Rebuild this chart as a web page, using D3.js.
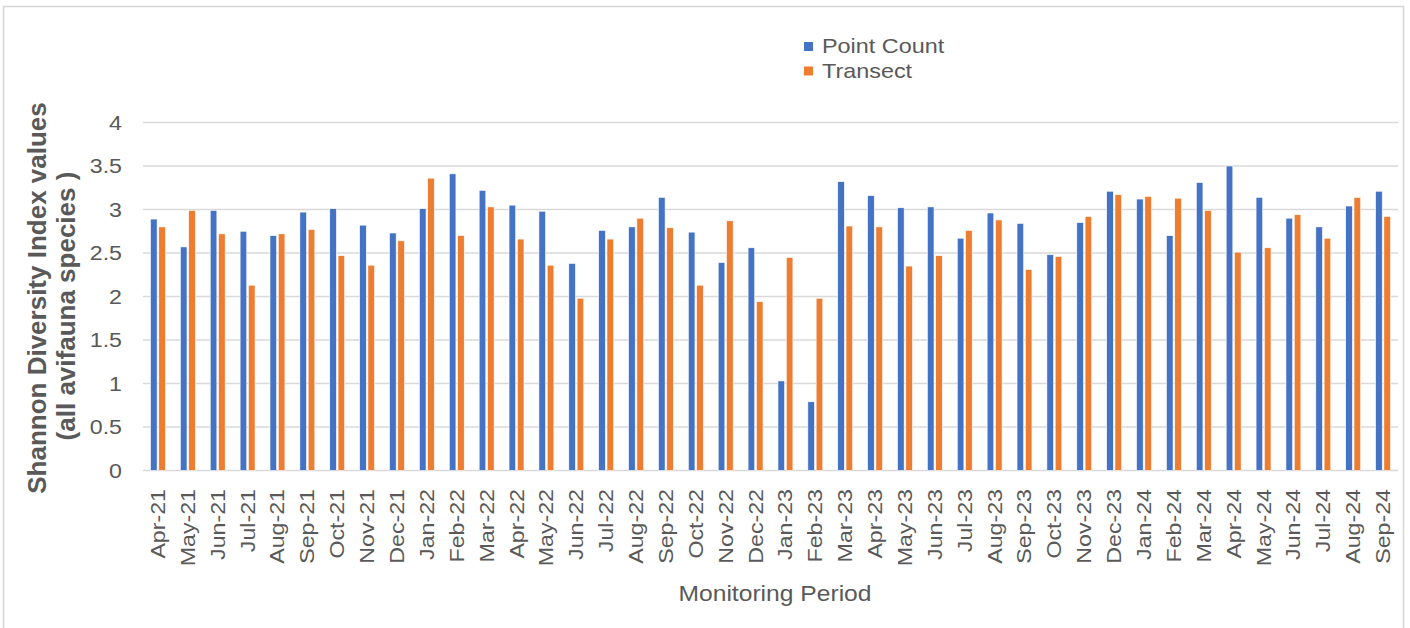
<!DOCTYPE html>
<html>
<head>
<meta charset="utf-8">
<script src="https://cdn.jsdelivr.net/npm/d3@7"></script>
<style>
  body { margin: 0; background: #fff; }
  svg text { font-family: "Liberation Sans", Arial, sans-serif; fill: #595959; }
</style>
</head>
<body>
<div id="chart"></div>
<script>
// months on the x axis
var months = ["Apr-21","May-21","Jun-21","Jul-21","Aug-21","Sep-21","Oct-21","Nov-21","Dec-21",
  "Jan-22","Feb-22","Mar-22","Apr-22","May-22","Jun-22","Jul-22","Aug-22","Sep-22","Oct-22","Nov-22","Dec-22",
  "Jan-23","Feb-23","Mar-23","Apr-23","May-23","Jun-23","Jul-23","Aug-23","Sep-23","Oct-23","Nov-23","Dec-23",
  "Jan-24","Feb-24","Mar-24","Apr-24","May-24","Jun-24","Jul-24","Aug-24","Sep-24"];

var pointCount = [2.89,2.57,2.99,2.75,2.70,2.97,3.01,2.82,2.73,
  3.01,3.41,3.22,3.05,2.98,2.38,2.76,2.80,3.14,2.74,2.39,2.56,
  1.03,0.79,3.32,3.16,3.02,3.03,2.67,2.96,2.84,2.48,2.85,3.21,
  3.12,2.70,3.31,3.50,3.14,2.90,2.80,3.04,3.21];

var transect = [2.80,2.99,2.72,2.13,2.72,2.77,2.47,2.36,2.64,
  3.36,2.70,3.03,2.66,2.36,1.98,2.66,2.90,2.79,2.13,2.87,1.94,
  2.45,1.98,2.81,2.80,2.35,2.47,2.76,2.88,2.31,2.46,2.92,3.17,
  3.15,3.13,2.99,2.51,2.56,2.94,2.67,3.14,2.92];

var seriesNames = ["Point Count", "Transect"];
var yTicks = [0, 0.5, 1, 1.5, 2, 2.5, 3, 3.5, 4];

var colors = { "Point Count": "#4472C4", "Transect": "#ED7D31" };
var stretch = 1.16;   // text in the picture is a bit wider than Arial

var width = 1410, height = 628;
var plotLeft = 143, plotRight = 1398, plotTop = 122.5, plotBottom = 470.5;

var svg = d3.select("#chart").append("svg")
  .attr("width", width)
  .attr("height", height);

// chart frame
svg.append("rect")
  .attr("x", 3.5).attr("y", 6.5)
  .attr("width", 1400).attr("height", 700)
  .attr("fill", "none")
  .attr("stroke", "#d9d9d9")
  .attr("stroke-width", 1.6);

var x0 = d3.scaleBand()
  .domain(months)
  .range([plotLeft, plotRight])
  .paddingInner(0.5)
  .paddingOuter(0.25);

var x1 = d3.scaleBand()
  .domain(seriesNames)
  .range([0, x0.bandwidth()])
  .paddingInner(0.2);

var y = d3.scaleLinear()
  .domain([0, 4])
  .range([plotBottom, plotTop]);

// gridlines
svg.append("g").selectAll("line")
  .data(yTicks)
  .enter().append("line")
  .attr("x1", plotLeft).attr("x2", plotRight)
  .attr("y1", function(d) { return y(d); })
  .attr("y2", function(d) { return y(d); })
  .attr("stroke", "#d9d9d9")
  .attr("stroke-width", 1.4);

// y tick labels
svg.append("g").selectAll("text")
  .data(yTicks)
  .enter().append("text")
  .attr("transform", function(d) { return "translate(122," + (y(d) + 7) + ") scale(" + stretch + ",1)"; })
  .attr("text-anchor", "end")
  .style("font-size", "20px")
  .text(function(d) { return d; });

// bars
var rows = months.map(function(m, i) {
  return { month: m, values: [
    { name: "Point Count", value: pointCount[i] },
    { name: "Transect", value: transect[i] }
  ]};
});

var groups = svg.append("g").selectAll("g")
  .data(rows)
  .enter().append("g")
  .attr("transform", function(d) { return "translate(" + x0(d.month) + ",0)"; });

groups.selectAll("rect")
  .data(function(d) { return d.values; })
  .enter().append("rect")
  .attr("x", function(d) { return x1(d.name); })
  .attr("y", function(d) { return y(d.value); })
  .attr("width", x1.bandwidth())
  .attr("height", function(d) { return y(0) - y(d.value); })
  .attr("fill", function(d) { return colors[d.name]; })
  .attr("stroke", "#fff")
  .attr("stroke-width", 0.6);

// x tick labels, rotated
svg.append("g").selectAll("text")
  .data(months)
  .enter().append("text")
  .attr("transform", function(d) {
    return "translate(" + (x0(d) + x0.bandwidth() / 2 + 7) + ",489) rotate(-90) scale(" + stretch + ",1)";
  })
  .attr("text-anchor", "end")
  .style("font-size", "20px")
  .text(function(d) { return d; });

// axis titles
svg.append("text")
  .attr("transform", "translate(775,601) scale(1.12,1)")
  .attr("text-anchor", "middle")
  .style("font-size", "22px")
  .text("Monitoring Period");

var yTitle = svg.append("text")
  .attr("transform", "translate(46,298) rotate(-90)")
  .attr("text-anchor", "middle")
  .style("font-size", "26px")
  .style("font-weight", "bold");
yTitle.append("tspan").attr("x", 0).attr("dy", 0).text("Shannon Diversity Index values");
yTitle.append("tspan").attr("x", -8).attr("dy", 29).text("(all avifauna species )");

// legend
var legend = svg.append("g").selectAll("g")
  .data(seriesNames)
  .enter().append("g")
  .attr("transform", function(d, i) { return "translate(804," + (53 + i * 24.5) + ")"; });

legend.append("rect")
  .attr("y", -11)
  .attr("width", 9).attr("height", 9)
  .attr("fill", function(d) { return colors[d]; });

legend.append("text")
  .attr("transform", "translate(18,0) scale(1.17,1)")
  .style("font-size", "20px")
  .text(function(d) { return d; });
</script>
</body>
</html>
